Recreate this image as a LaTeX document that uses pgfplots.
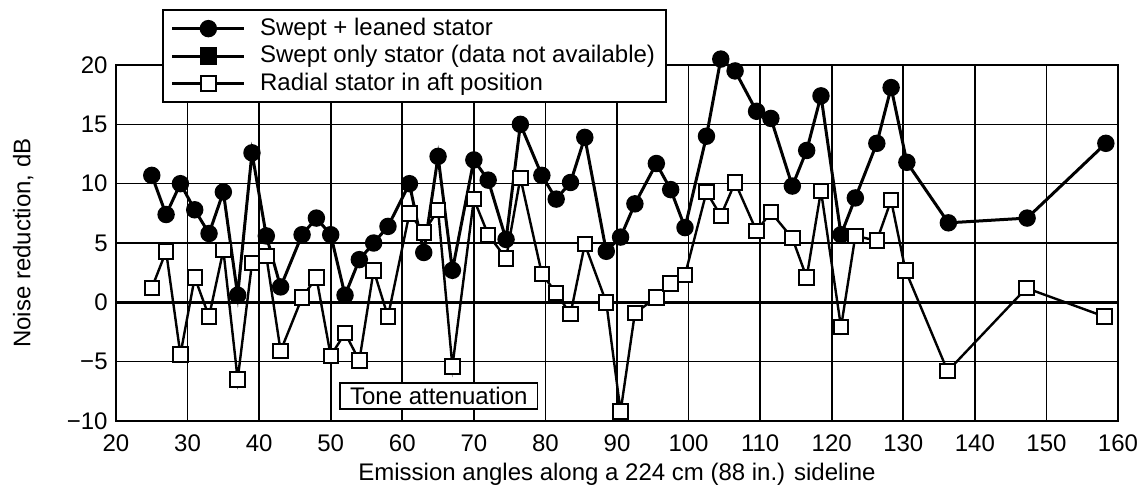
\documentclass[border=0pt]{standalone}
\usepackage{pgfplots}
\pgfplotsset{compat=1.18}
\usepackage{fontspec}
\setmainfont{Liberation Sans}

\pgfplotstableread{
x y
25 10.7
27 7.4
29 10.0
31 7.8
33 5.8
35 9.3
37 0.6
39 12.6
41 5.6
43 1.3
46 5.7
48 7.1
50 5.7
52 0.6
54 3.6
56 5.0
58 6.4
61 10.0
63 4.2
65 12.3
67 2.7
70 12.0
72 10.3
74.5 5.3
76.5 15.0
79.5 10.7
81.5 8.7
83.5 10.1
85.5 13.9
88.5 4.3
90.5 5.5
92.5 8.3
95.5 11.7
97.5 9.5
99.5 6.3
102.5 14.0
104.5 20.5
106.5 19.5
109.5 16.1
111.5 15.5
114.5 9.8
116.5 12.8
118.5 17.4
121.3 5.7
123.3 8.8
126.3 13.4
128.3 18.1
130.5 11.8
136.3 6.7
147.3 7.1
158.3 13.4
}\sweptleaned

\pgfplotstableread{
x y
25 1.2
27 4.3
29 -4.4
31 2.1
33 -1.2
35 4.4
37 -6.5
39 3.3
41 3.9
43 -4.1
46 0.4
48 2.1
50 -4.5
52 -2.6
54 -4.9
56 2.7
58 -1.2
61 7.5
63 5.9
65 7.8
67 -5.4
70 8.7
72 5.7
74.5 3.7
76.5 10.5
79.5 2.4
81.5 0.8
83.5 -1.0
85.5 4.9
88.5 0.0
90.5 -9.2
92.5 -0.9
95.5 0.4
97.5 1.6
99.5 2.3
102.5 9.3
104.5 7.3
106.5 10.1
109.5 6.0
111.5 7.6
114.5 5.4
116.5 2.1
118.5 9.4
121.3 -2.1
123.3 5.6
126.3 5.2
128.3 8.6
130.3 2.7
136.2 -5.8
147.2 1.2
158.1 -1.2
}\radial

\begin{document}
\fontsize{12}{14}\selectfont
\begin{tikzpicture}
\path[use as bounding box] (-58pt,-34pt) rectangle (514pt,210.5pt);
\begin{axis}[
  at={(0pt,0pt)}, anchor=south west,
  scale only axis, width=501pt, height=178pt,
  xmin=20, xmax=160, ymin=-10, ymax=20,
  clip=false,
  xtick={20,30,...,160},
  ytick={-10,-5,0,5,10,15,20},
  yticklabels={−10,−5,0,5,10,15,20},
  /pgf/number format/assume math mode=true,
  xticklabel style={yshift=-2.5pt},
  xlabel style={yshift=2.5pt},
  ylabel style={yshift=8.5pt},
  grid=major,
  grid style={black, line width=0.8pt},
  major tick length=0pt,
  axis line style={line width=1pt},
  extra y ticks={0},
  extra y tick labels={},
  extra y tick style={grid style={black, line width=1.5pt}},
  xlabel={Emission angles along a 224 cm (88 in.) sideline},
  ylabel={Noise reduction, dB},
  legend style={at={(0.046,1.157)}, anchor=north west, draw=black, line width=0.8pt,
    fill=white, row sep=0pt, inner xsep=4pt, inner ysep=2.5pt,
    nodes={inner sep=1.6pt},
    /tikz/every odd column/.append style={column sep=5.5pt}},
  legend cell align=left,
  legend image code/.code={%
    \draw[mark repeat=2,mark phase=2,#1] plot coordinates {(0pt,0pt) (18pt,0pt) (36pt,0pt)};},
]
\addplot[black, line width=1.5pt, mark=*, mark size=3.6pt] table {\sweptleaned};
\addlegendentry{Swept + leaned stator}
\addlegendimage{black, line width=1.5pt, mark=square*, mark size=3.6pt}
\addlegendentry{Swept only stator (data not available)}
\addplot[black, line width=1.2pt, mark=square*, mark size=3.6pt,
  mark options={fill=white, line width=1pt}] table {\radial};
\addlegendentry{Radial stator in aft position}
\node[draw=black, fill=white, line width=0.8pt, inner xsep=5pt, inner ysep=2pt]
  at (axis cs:65.1,-7.9) {Tone attenuation};
\end{axis}
\end{tikzpicture}
\end{document}
